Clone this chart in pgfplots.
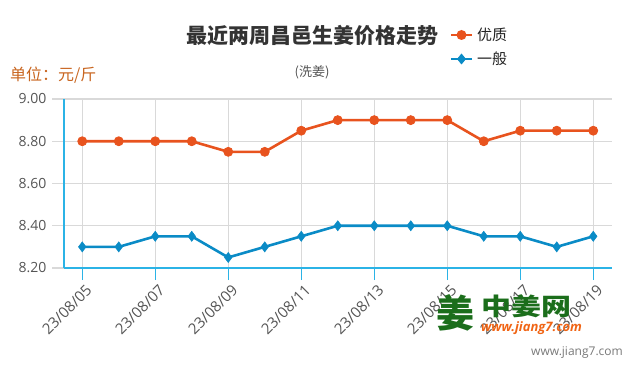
\documentclass[border=0pt]{standalone}
\usepackage{pgfplots}
\pgfplotsset{compat=1.18}
\usepackage{fontspec}
\setmainfont{Open Sans}
\newfontfamily\cjk{Noto Sans CJK SC}
\definecolor{cA}{HTML}{E8531E}
\definecolor{cB}{HTML}{0A8BC6}
\definecolor{axblue}{HTML}{2BB3E6}
\definecolor{gridc}{HTML}{D9D9D9}
\definecolor{lbl}{HTML}{555555}
\definecolor{unitc}{HTML}{C8641E}
\definecolor{logog}{HTML}{1B6E1B}
\begin{document}
\begin{tikzpicture}[x=1pt,y=1pt]
\path[use as bounding box] (0,0) rectangle (635,375);
\begin{axis}[
  at={(64pt,107pt)}, anchor=south west,
  scale only axis, width=547.5pt, height=169pt,
  xmin=-0.5, xmax=14.5, ymin=8.2, ymax=9.0,
  xtick={0,2,4,6,8,10,12,14},
  xticklabels={23/08/05,23/08/07,23/08/09,23/08/11,23/08/13,23/08/15,23/08/17,23/08/19},
  ytick={8.2,8.4,8.6,8.8,9.0},
  /pgf/number format/fixed,
  /pgf/number format/fixed zerofill,
  /pgf/number format/precision=2,
  /pgf/number format/assume math mode=true,
  yticklabel style={font=\fontsize{14}{16}\selectfont, text=lbl, xshift=-2pt},
  xticklabel style={font=\fontsize{15}{17}\selectfont, text=lbl, rotate=45, anchor=north east, xshift=3pt, yshift=-1pt},
  grid=major, major grid style={gridc, line width=1.2pt},
  axis x line*=bottom, axis y line*=left,
  axis line style={axblue, line width=1.3pt, -},
  tick style={line width=1.2pt},
  xtick style={axblue},
  ytick style={gridc},
  tick align=outside, major tick length=12pt,
  clip=false,
]
\addplot[cA, line width=2.6pt, mark=*, mark size=4.5pt, mark options={fill=cA, draw=cA, line width=0.8pt}] coordinates {
(0,8.80) (1,8.80) (2,8.80) (3,8.80) (4,8.75) (5,8.75) (6,8.85) (7,8.90) (8,8.90) (9,8.90) (10,8.90) (11,8.80) (12,8.85) (13,8.85) (14,8.85)};
\addplot[cB, line width=2.6pt, mark=diamond*, mark size=5pt, mark options={fill=cB, draw=cB, line width=0.6pt}] coordinates {
(0,8.30) (1,8.30) (2,8.35) (3,8.35) (4,8.25) (5,8.30) (6,8.35) (7,8.40) (8,8.40) (9,8.40) (10,8.40) (11,8.35) (12,8.35) (13,8.30) (14,8.35)};
\end{axis}
% title
\node[font=\cjk\bfseries\fontsize{21}{23}\selectfont, text={rgb,255:red,51;green,51;blue,51}] at (312,340) {最近两周昌邑生姜价格走势};
\node[font=\cjk\fontsize{13}{15}\selectfont, text={rgb,255:red,85;green,85;blue,85}] at (312,303) {(洗姜)};
\node[font=\cjk\fontsize{16}{18}\selectfont, text=unitc, anchor=west, inner sep=0pt] at (10,300) {单位：元/斤};
% legend
\draw[cA, line width=2.6pt] (451,340) -- (472,340);
\fill[cA] (461.5,340) circle (5pt);
\node[font=\cjk\fontsize{15}{17}\selectfont, anchor=west, inner sep=0pt, text={rgb,255:red,34;green,34;blue,34}] at (477,340) {优质};
\draw[cB, line width=2.6pt] (451,316) -- (472,316);
\fill[cB] (461.5,321.5) -- (466,316) -- (461.5,310.5) -- (457,316) -- cycle;
\node[font=\cjk\fontsize{15}{17}\selectfont, anchor=west, inner sep=0pt, text={rgb,255:red,34;green,34;blue,34}] at (477,316) {一般};
% watermark
\node[font=\cjk\bfseries\fontsize{38}{40}\selectfont, text=logog, anchor=west, inner sep=0pt] at (436,62) {姜};
\node[font=\cjk\bfseries\fontsize{30}{32}\selectfont, text=logog, anchor=west, inner sep=0pt, yscale=0.8] at (481,69) {中姜网};
\node[font=\bfseries\itshape\fontsize{13}{15}\selectfont, text={rgb,255:red,240;green,100;blue,20}, anchor=west, inner sep=0pt] at (481,47) {www.jiang7.com};
\node[font=\fontsize{12}{14}\selectfont, text={rgb,255:red,120;green,120;blue,120}, anchor=east, inner sep=0pt] at (623,22) {www.jiang7.com};
\end{tikzpicture}
\end{document}
